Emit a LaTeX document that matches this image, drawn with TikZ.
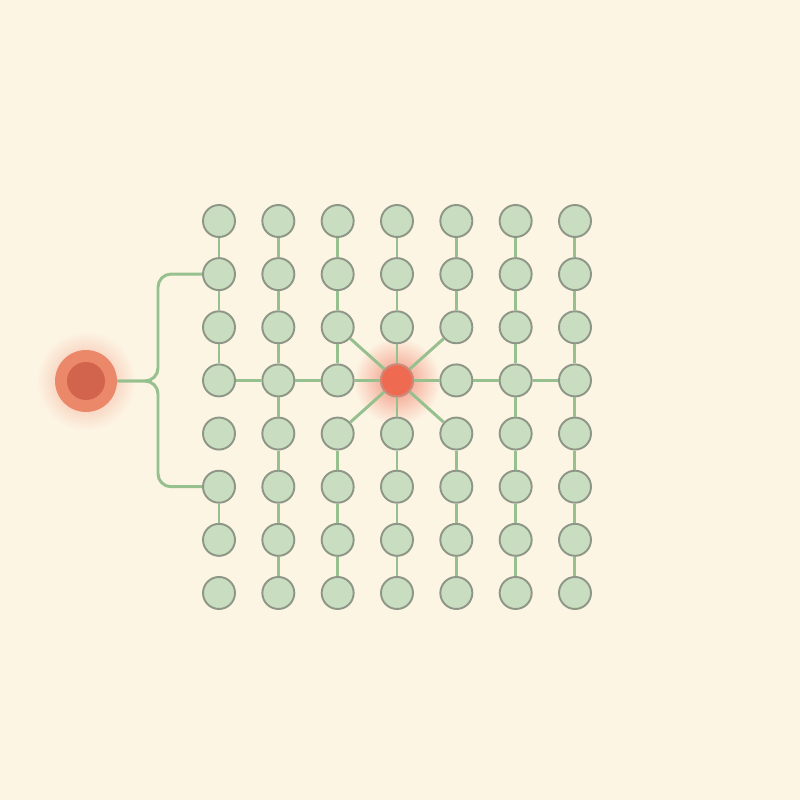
\documentclass[tikz,border=0pt]{standalone}
\usepackage{tikz}
\usetikzlibrary{calc}
\definecolor{paper}{RGB}{253,245,228}
\definecolor{cellfill}{RGB}{201,222,193}
\definecolor{celldraw}{RGB}{142,150,136}
\definecolor{wire}{RGB}{150,192,142}
\definecolor{hotred}{RGB}{238,106,80}
\definecolor{srcout}{RGB}{236,136,106}
\definecolor{srcin}{RGB}{210,100,78}

\begin{document}
\begin{tikzpicture}[x=0.02cm, y=-0.02cm,
		cell/.style={circle, draw=celldraw, fill=cellfill, line width=1.1pt, minimum size=0.64cm, inner sep=0pt},
		hot/.style={circle, draw=hotred!80!black!70, fill=hotred, line width=1.1pt, minimum size=0.64cm, inner sep=0pt},
		link/.style={draw=wire, line width=1.7pt}]
		%%%%% START %%%%%
		
		\fill[paper] (0, 0) rectangle (800, 800);
		\useasboundingbox (0, 0) rectangle (800, 800);
		
		% glows
		\shade[inner color=srcout!70, outer color=paper] (86, 381) circle (50);
		\shade[inner color=hotred!75, outer color=paper] (397, 381) circle (44);
		
		% grid of cells
		\foreach \c in {1,...,7}
			\foreach \r in {1,...,8}
				\node[cell] (n-\c-\r) at ({219+59.33*(\c-1)}, {221+53.14*(\r-1)}) {};
		\node[hot] (hub) at (n-4-4) {};
		
		% source
		\node[circle, fill=srcout, minimum size=1.24cm, inner sep=0pt] (src) at (86, 381) {};
		\fill[srcin] (src.center) circle (19);
		
		% vertical links
		\foreach \r in {1,2,3,6} \draw[link] (n-1-\r) -- (n-1-\the\numexpr\r+1\relax);
		\foreach \r in {1,...,7} \draw[link] (n-2-\r) -- (n-2-\the\numexpr\r+1\relax);
		\foreach \r in {1,2,3,5,6,7} \draw[link] (n-3-\r) -- (n-3-\the\numexpr\r+1\relax);
		\foreach \r in {1,2,5,6,7} \draw[link] (n-5-\r) -- (n-5-\the\numexpr\r+1\relax);
		\foreach \r in {1,...,7} \draw[link] (n-6-\r) -- (n-6-\the\numexpr\r+1\relax);
		\foreach \r in {1,...,7} \draw[link] (n-7-\r) -- (n-7-\the\numexpr\r+1\relax);
		\draw[link] (n-4-1) -- (n-4-2);
		\draw[link] (n-4-2) -- (n-4-3);
		\draw[link] (n-4-3) -- (hub);
		\foreach \r in {5,6,7} \draw[link] (n-4-\r) -- (n-4-\the\numexpr\r+1\relax);
		\draw[link] (hub) -- (n-4-5);
		
		% middle row
		\foreach \c in {1,2,5,6} \draw[link] (n-\c-4) -- (n-\the\numexpr\c+1\relax-4);
		\draw[link] (n-3-4) -- (hub);
		\draw[link] (hub) -- (n-5-4);
		
		% spokes
		\foreach \t in {n-3-3, n-5-3, n-3-5, n-5-5} \draw[link] (hub) -- (\t);
		
		% brace from source
		\draw[link, rounded corners=0.26cm] (src.east) -- (158, 381) -- (158, 274.1) -- (n-1-2.west);
		\draw[link, rounded corners=0.26cm] (src.east) -- (158, 381) -- (158, 486.7) -- (n-1-6.west);
		
		%%%%% END %%%%%
	\end{tikzpicture}
\end{document}
